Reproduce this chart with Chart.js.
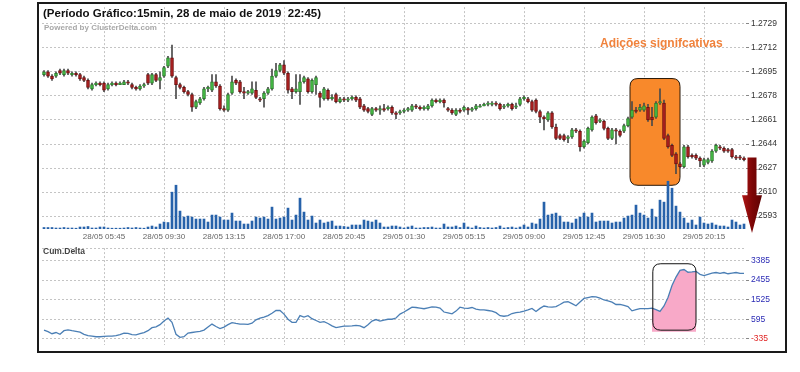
<!DOCTYPE html>
<html>
<head>
<meta charset="utf-8">
<script src="https://cdn.jsdelivr.net/npm/chart.js@4.4.1/dist/chart.umd.min.js"></script>
<style>
body{margin:0;background:#fff;width:800px;height:372px;overflow:hidden;position:relative;font-family:"Liberation Sans",Arial,sans-serif}
#frame{position:absolute;left:37px;top:2px;width:750px;height:351px;border:2px solid #1a1a1a;box-sizing:border-box;z-index:3;pointer-events:none}
.wrap{position:absolute;left:0;width:800px}
#topWrap{top:0;height:241px}
#botWrap{top:241px;height:111px}
.t{position:absolute;white-space:pre;font-weight:bold;line-height:1;z-index:4}
</style>
</head>
<body>
<div class="wrap" id="topWrap"><canvas id="priceChart" width="800" height="241"></canvas></div>
<div class="wrap" id="botWrap"><canvas id="deltaChart" width="800" height="111"></canvas></div>
<div id="frame"></div>
<div class="t" style="left:43px;top:8px;font-size:11.5px;color:#111">(Período Gráfico:15min, 28 de maio de 2019  22:45)</div>
<div class="t" style="left:44px;top:24px;font-size:8px;color:#a8a8a8">Powered by ClusterDelta.com</div>
<div class="t" style="left:600px;top:37px;font-size:12px;color:#f0823c">Adições signifcativas</div>
<div class="t" style="left:43px;top:247px;font-size:8.5px;color:#444">Cum.Delta</div>
<script>
// tick labels under the price panel (every 15 bars of 15 min)
const tickIndex = [15, 30, 45, 60, 75, 90, 105, 120, 135, 150, 165];
const tickLabels = ["28/05 05:45", "28/05 09:30", "28/05 13:15", "28/05 17:00", "28/05 20:45",
	"29/05 01:30", "29/05 05:15", "29/05 09:00", "29/05 12:45", "29/05 16:30", "29/05 20:15"];
const priceTicks = [1.2593, 1.2610, 1.2627, 1.2644, 1.2661, 1.2678, 1.2695, 1.2712, 1.2729];
const deltaTicks = [-335, 595, 1525, 2455, 3385];

const open = [1.2693,1.2695,1.2692,1.2692,1.2696,1.2693,1.2696,1.2693,1.2694,1.2693,
	1.2691,1.2689,1.2683,1.2686,1.2687,1.2687,1.2683,1.2686,1.2687,1.2686,
	1.2686,1.2688,1.2686,1.2684,1.2683,1.2685,1.2693,1.2687,1.2693,1.2689,
	1.2692,1.2699,1.2705,1.2691,1.2686,1.2684,1.2681,1.2679,1.2670,1.2673,
	1.2676,1.2683,1.2682,1.2688,1.2685,1.2669,1.2668,1.2680,1.2689,1.2688,
	1.2681,1.2680,1.2680,1.2682,1.2676,1.2676,1.2680,1.2683,1.2692,1.2696,
	1.2700,1.2694,1.2683,1.2681,1.2681,1.2688,1.2690,1.2681,1.2686,1.2680,
	1.2676,1.2682,1.2676,1.2679,1.2674,1.2676,1.2675,1.2676,1.2677,1.2676,
	1.2671,1.2669,1.2665,1.2669,1.2668,1.2669,1.2669,1.2670,1.2666,1.2666,
	1.2667,1.2668,1.2668,1.2671,1.2670,1.2669,1.2669,1.2671,1.2675,1.2674,
	1.2675,1.2669,1.2668,1.2665,1.2668,1.2668,1.2669,1.2668,1.2669,1.2670,
	1.2671,1.2672,1.2672,1.2673,1.2672,1.2670,1.2671,1.2672,1.2670,1.2672,
	1.2676,1.2676,1.2674,1.2675,1.2667,1.2663,1.2661,1.2666,1.2656,1.2650,
	1.2650,1.2648,1.2649,1.2654,1.2653,1.2642,1.2645,1.2654,1.2664,1.2660,
	1.2660,1.2655,1.2648,1.2654,1.2653,1.2653,1.2657,1.2663,1.2668,1.2668,
	1.2668,1.2670,1.2663,1.2663,1.2673,1.2673,1.2650,1.2643,1.2637,1.2630,
	1.2628,1.2642,1.2636,1.2636,1.2634,1.2629,1.2631,1.2632,1.2639,1.2642,
	1.2641,1.2640,1.2640,1.2635,1.2635,1.2634];
const high = [1.2696,1.2696,1.2693,1.2695,1.2697,1.2697,1.2697,1.2695,1.2695,1.2694,
	1.2692,1.2690,1.2687,1.2688,1.2688,1.2688,1.2687,1.2688,1.2688,1.2688,
	1.2689,1.2689,1.2687,1.2685,1.2686,1.2687,1.2694,1.2694,1.2694,1.2695,
	1.2699,1.2706,1.2714,1.2692,1.2687,1.2685,1.2682,1.2680,1.2675,1.2677,
	1.2684,1.2685,1.2693,1.2693,1.2686,1.2671,1.2680,1.2692,1.2690,1.2689,
	1.2684,1.2682,1.2688,1.2688,1.2677,1.2681,1.2684,1.2697,1.2701,1.2701,
	1.2703,1.2695,1.2684,1.2693,1.2693,1.2692,1.2691,1.2690,1.2692,1.2681,
	1.2684,1.2683,1.2679,1.2680,1.2677,1.2677,1.2677,1.2678,1.2678,1.2677,
	1.2672,1.2670,1.2670,1.2670,1.2671,1.2672,1.2671,1.2671,1.2667,1.2668,
	1.2669,1.2670,1.2672,1.2672,1.2671,1.2671,1.2672,1.2676,1.2676,1.2676,
	1.2676,1.2670,1.2669,1.2669,1.2669,1.2671,1.2670,1.2670,1.2672,1.2672,
	1.2673,1.2674,1.2674,1.2674,1.2673,1.2672,1.2673,1.2673,1.2673,1.2677,
	1.2678,1.2677,1.2675,1.2676,1.2668,1.2664,1.2667,1.2667,1.2658,1.2651,
	1.2651,1.2650,1.2655,1.2655,1.2654,1.2647,1.2656,1.2664,1.2665,1.2662,
	1.2661,1.2656,1.2655,1.2655,1.2654,1.2658,1.2663,1.2674,1.2670,1.2672,
	1.2673,1.2672,1.2670,1.2674,1.2683,1.2675,1.2651,1.2644,1.2638,1.2631,
	1.2643,1.2643,1.2637,1.2637,1.2635,1.2634,1.2634,1.2640,1.2644,1.2643,
	1.2642,1.2641,1.2641,1.2636,1.2636,1.2635];
const low = [1.2692,1.2691,1.2689,1.2691,1.2693,1.2692,1.2693,1.2692,1.2692,1.2689,
	1.2688,1.2683,1.2682,1.2685,1.2685,1.2681,1.2682,1.2685,1.2685,1.2686,
	1.2686,1.2686,1.2683,1.2682,1.2682,1.2684,1.2686,1.2686,1.2688,1.2683,
	1.2691,1.2698,1.2691,1.2676,1.2683,1.2680,1.2678,1.2667,1.2669,1.2672,
	1.2675,1.2681,1.2681,1.2684,1.2668,1.2667,1.2667,1.2679,1.2686,1.2680,
	1.2676,1.2679,1.2679,1.2676,1.2674,1.2670,1.2679,1.2682,1.2691,1.2695,
	1.2693,1.2680,1.2676,1.2680,1.2672,1.2687,1.2680,1.2680,1.2679,1.2670,
	1.2675,1.2675,1.2675,1.2673,1.2673,1.2674,1.2674,1.2675,1.2674,1.2669,
	1.2667,1.2666,1.2664,1.2667,1.2665,1.2667,1.2668,1.2665,1.2662,1.2665,
	1.2666,1.2667,1.2667,1.2669,1.2668,1.2668,1.2668,1.2670,1.2673,1.2673,
	1.2670,1.2667,1.2665,1.2664,1.2666,1.2667,1.2665,1.2667,1.2668,1.2670,
	1.2671,1.2671,1.2671,1.2671,1.2668,1.2669,1.2670,1.2668,1.2669,1.2671,
	1.2675,1.2673,1.2667,1.2666,1.2659,1.2654,1.2660,1.2655,1.2647,1.2647,
	1.2646,1.2645,1.2648,1.2652,1.2639,1.2641,1.2644,1.2653,1.2658,1.2659,
	1.2654,1.2647,1.2647,1.2644,1.2649,1.2652,1.2656,1.2662,1.2666,1.2667,
	1.2667,1.2660,1.2657,1.2662,1.2672,1.2647,1.2641,1.2635,1.2623,1.2627,
	1.2627,1.2634,1.2634,1.2633,1.2628,1.2628,1.2630,1.2631,1.2638,1.2640,
	1.2638,1.2638,1.2634,1.2633,1.2633,1.2632];
const close = [1.2695,1.2692,1.2690,1.2694,1.2694,1.2696,1.2694,1.2694,1.2693,1.2690,
	1.2689,1.2684,1.2686,1.2687,1.2686,1.2682,1.2686,1.2687,1.2686,1.2687,
	1.2688,1.2687,1.2684,1.2683,1.2685,1.2686,1.2687,1.2693,1.2689,1.2691,
	1.2698,1.2705,1.2692,1.2686,1.2684,1.2681,1.2679,1.2670,1.2674,1.2676,
	1.2683,1.2684,1.2688,1.2685,1.2669,1.2668,1.2679,1.2688,1.2687,1.2681,
	1.2680,1.2681,1.2683,1.2677,1.2675,1.2680,1.2683,1.2692,1.2696,1.2700,
	1.2694,1.2682,1.2681,1.2683,1.2688,1.2691,1.2681,1.2689,1.2691,1.2677,
	1.2683,1.2676,1.2677,1.2674,1.2676,1.2675,1.2676,1.2677,1.2675,1.2670,
	1.2668,1.2667,1.2669,1.2668,1.2669,1.2668,1.2670,1.2666,1.2665,1.2667,
	1.2668,1.2669,1.2671,1.2670,1.2669,1.2670,1.2671,1.2675,1.2674,1.2675,
	1.2673,1.2668,1.2666,1.2668,1.2667,1.2670,1.2668,1.2669,1.2671,1.2671,
	1.2672,1.2673,1.2673,1.2672,1.2669,1.2671,1.2672,1.2669,1.2671,1.2676,
	1.2677,1.2674,1.2668,1.2667,1.2663,1.2662,1.2666,1.2656,1.2648,1.2648,
	1.2647,1.2649,1.2654,1.2653,1.2642,1.2646,1.2655,1.2663,1.2659,1.2661,
	1.2655,1.2648,1.2654,1.2653,1.2650,1.2657,1.2662,1.2668,1.2667,1.2670,
	1.2671,1.2661,1.2661,1.2673,1.2674,1.2648,1.2642,1.2636,1.2630,1.2628,
	1.2642,1.2635,1.2635,1.2634,1.2632,1.2633,1.2633,1.2639,1.2643,1.2641,
	1.2639,1.2639,1.2635,1.2634,1.2634,1.2633];
const volume = [15,15,15,10,10,15,10,10,8,20,
	20,25,10,10,20,20,10,8,8,8,
	10,15,10,15,10,8,20,30,20,50,
	70,65,370,440,180,120,130,120,100,100,
	100,70,140,140,120,90,90,160,80,80,
	50,50,80,120,110,120,100,220,100,110,
	120,210,90,140,310,170,90,130,60,90,
	60,70,80,30,30,25,20,40,40,40,
	90,80,70,90,60,20,20,30,30,20,
	10,20,30,10,10,15,15,20,10,10,
	50,20,20,30,15,60,20,10,30,15,
	10,15,10,15,30,10,15,20,10,20,
	40,20,60,50,100,270,140,150,160,130,
	70,70,60,100,120,160,120,160,70,80,
	80,80,60,70,70,110,130,140,240,160,
	140,110,200,120,290,270,480,410,230,170,
	110,60,90,40,120,60,50,60,40,30,
	30,20,90,70,40,50];
const cumDelta = [79,8,-92,-35,-121,51,94,51,22,-21,
	-121,-178,-207,-235,-235,-221,-207,-207,-178,-135,
	-64,-78,-135,-150,-92,-35,51,194,237,337,
	509,652,451,-121,-264,-235,-64,-35,-6,22,
	79,222,366,251,151,222,337,437,394,366,
	366,351,409,566,652,695,766,881,1010,1010,
	838,595,451,451,766,695,766,623,537,451,
	480,394,280,194,237,265,265,280,308,280,
	194,337,509,580,509,552,595,595,652,838,
	938,1052,1167,1153,1124,1095,1138,1181,1167,1124,
	938,895,852,981,1167,1124,1110,1153,1081,1038,
	1038,1010,981,909,766,738,766,866,909,938,
	981,1038,1110,967,1110,1224,1181,1167,1196,1296,
	1410,1425,1339,1238,1410,1582,1625,1668,1653,1596,
	1510,1467,1410,1296,1296,1253,1196,995,1052,1095,
	1095,1095,1124,1052,967,1224,1625,2197,2598,2913,
	2956,2827,2841,2870,2727,2669,2727,2784,2813,2770,
	2813,2755,2784,2813,2770,2770];

// highlighted zones, in bar index / value units
const orangeBox = { x0: 146.5, x1: 159, y0: 1.26903, y1: 1.26148 };
const pinkBox = { x0: 152.2, x1: 163, y0: 3230, y1: 77 };
const pinkFrom = 152, pinkTo = 163;
const arrow = { top: 1.26345, neck: 1.26077, tip: 1.25810 };

const font = "'Liberation Sans', Arial, sans-serif";
const gridCol = "#c4c4c4";
const bars = open.map((o, i) => i);

function roundRect(ctx, x, y, w, h, r) {
	ctx.beginPath();
	ctx.moveTo(x + r, y);
	ctx.lineTo(x + w - r, y);
	ctx.quadraticCurveTo(x + w, y, x + w, y + r);
	ctx.lineTo(x + w, y + h - r);
	ctx.quadraticCurveTo(x + w, y + h, x + w - r, y + h);
	ctx.lineTo(x + r, y + h);
	ctx.quadraticCurveTo(x, y + h, x, y + h - r);
	ctx.lineTo(x, y + r);
	ctx.quadraticCurveTo(x, y, x + r, y);
	ctx.closePath();
}

function boxPx(chart, b) {
	const xs = chart.scales.x, ys = chart.scales.y;
	const x0 = xs.getPixelForValue(b.x0), x1 = xs.getPixelForValue(b.x1);
	const y0 = ys.getPixelForValue(b.y0), y1 = ys.getPixelForValue(b.y1);
	return [x0, y0, x1 - x0, y1 - y0];
}

let xGrid = {
	offset: false,
	drawTicks: false,
	color: c => tickIndex.includes(c.index) ? gridCol : "transparent"
};

function isUp(i) { return close[i] >= open[i]; }

let priceChart = new Chart("priceChart", {
	data: {
		labels: bars,
		datasets: [{
			type: "bar",
			data: open.map((o, i) => [Math.min(o, close[i]), Math.max(o, close[i])]),
			backgroundColor: c => isUp(c.dataIndex) ? "#46c046" : "#b02020",
			borderColor: c => isUp(c.dataIndex) ? "#2c7a2c" : "#6e1010",
			borderWidth: 1,
			borderSkipped: false,
			barThickness: 3,
			minBarLength: 1,
			grouped: false,
			yAxisID: "y"
		},
		{
			type: "bar",
			data: low.map((l, i) => [l, high[i]]),
			backgroundColor: "#4a4a4a",
			barThickness: 1,
			grouped: false,
			yAxisID: "y"
		},
		{
			type: "bar",
			data: volume,
			backgroundColor: "#2762aa",
			barThickness: 2,
			grouped: false,
			yAxisID: "yv"
		}]
	},
	options: {
		responsive: false,
		animation: false,
		layout: { padding: { left: 42, right: 14, top: 6, bottom: 0 } },
		plugins: { legend: { display: false }, tooltip: { enabled: false } },
		scales: {
			x: {
				type: "category",
				afterFit: s => { s.height = 12; },
				grid: xGrid,
				border: { display: false, dash: [2, 2] },
				ticks: {
					autoSkip: false, maxRotation: 0, minRotation: 0, padding: 3,
					color: "#666", font: { size: 8, family: font },
					callback: (v, i) => { let k = tickIndex.indexOf(i); return k >= 0 ? tickLabels[k] : ""; }
				}
			},
			y: {
				position: "right",
				min: 1.25839, max: 1.27408,
				afterBuildTicks: s => { s.ticks = priceTicks.map(v => ({ value: v })); },
				afterFit: s => { s.width = 40; },
				grid: { color: gridCol, tickLength: 3, tickColor: "#888" },
				border: { display: false, dash: [2, 2] },
				ticks: { padding: 2, color: "#333", font: { size: 8.5, family: font }, callback: v => v.toFixed(4) }
			},
			yv: { display: false, min: 0, max: 2230 }
		}
	},
	plugins: [{
		id: "zones",
		beforeDatasetsDraw(chart) {
			let ctx = chart.ctx;
			let [x, y, w, h] = boxPx(chart, orangeBox);
			ctx.save();
			roundRect(ctx, x, y, w, h, 8);
			ctx.fillStyle = "#f8892b";
			ctx.fill();
			ctx.lineWidth = 1;
			ctx.strokeStyle = "#2a1a0a";
			ctx.stroke();
			ctx.restore();
		},
		afterDraw(chart) {
			let ctx = chart.ctx, ys = chart.scales.y;
			let cx = chart.chartArea.right + 6;
			let yTop = ys.getPixelForValue(arrow.top);
			let yNeck = ys.getPixelForValue(arrow.neck);
			let yTip = ys.getPixelForValue(arrow.tip);
			let g = ctx.createLinearGradient(cx - 10, 0, cx + 10, 0);
			g.addColorStop(0, "#b01515");
			g.addColorStop(0.5, "#7d0606");
			g.addColorStop(1, "#5e0303");
			ctx.save();
			ctx.beginPath();
			ctx.moveTo(cx - 4.5, yTop);
			ctx.lineTo(cx + 4.5, yTop);
			ctx.lineTo(cx + 4.5, yNeck);
			ctx.lineTo(cx + 10, yNeck);
			ctx.lineTo(cx, yTip);
			ctx.lineTo(cx - 10, yNeck);
			ctx.lineTo(cx - 4.5, yNeck);
			ctx.closePath();
			ctx.fillStyle = g;
			ctx.fill();
			ctx.restore();
		}
	}]
});

let deltaChart = new Chart("deltaChart", {
	type: "line",
	data: {
		labels: bars,
		datasets: [{
			data: cumDelta,
			borderColor: "#4b7fb5",
			borderWidth: 1.3,
			pointRadius: 0,
			tension: 0,
			fill: false
		},
		{
			data: cumDelta.map((v, i) => (i >= pinkFrom && i <= pinkTo) ? v : null),
			borderWidth: 0,
			pointRadius: 0,
			backgroundColor: "#f8a9c8",
			fill: { value: 0 }
		}]
	},
	options: {
		responsive: false,
		animation: false,
		layout: { padding: { left: 42, right: 14, top: 1, bottom: 3 } },
		plugins: { legend: { display: false }, tooltip: { enabled: false } },
		scales: {
			x: {
				type: "category",
				offset: true,
				afterFit: s => { s.height = 0; },
				grid: xGrid,
				border: { display: false, dash: [2, 2] },
				ticks: { display: false, autoSkip: false }
			},
			y: {
				position: "right",
				min: -623, max: 3973,
				afterBuildTicks: s => { s.ticks = deltaTicks.concat([3973]).map(v => ({ value: v })); },
				afterFit: s => { s.width = 40; },
				grid: { color: gridCol, tickLength: 3, tickColor: c => c.tick && deltaTicks.includes(c.tick.value) ? "#888" : "transparent" },
				border: { display: false, dash: [2, 2] },
				ticks: {
					padding: 2, font: { size: 8.5, family: font },
					color: c => c.tick && c.tick.value < 0 ? "#e02424" : "#2b2bb5",
					callback: v => deltaTicks.includes(v) ? String(v) : ""
				}
			}
		}
	},
	plugins: [{
		id: "pinkZone",
		beforeDatasetDraw(chart, args) {
			if (args.index !== 1) return;
			let [x, y, w, h] = boxPx(chart, pinkBox);
			chart.ctx.save();
			roundRect(chart.ctx, x, y, w, h, 8);
			chart.ctx.clip();
		},
		afterDatasetDraw(chart, args) {
			if (args.index !== 1) return;
			chart.ctx.restore();
		},
		afterDatasetsDraw(chart) {
			let ctx = chart.ctx;
			let [x, y, w, h] = boxPx(chart, pinkBox);
			ctx.save();
			roundRect(ctx, x, y, w, h, 8);
			ctx.lineWidth = 1;
			ctx.strokeStyle = "#111";
			ctx.stroke();
			ctx.restore();
		}
	}]
});
</script>
</body>
</html>
